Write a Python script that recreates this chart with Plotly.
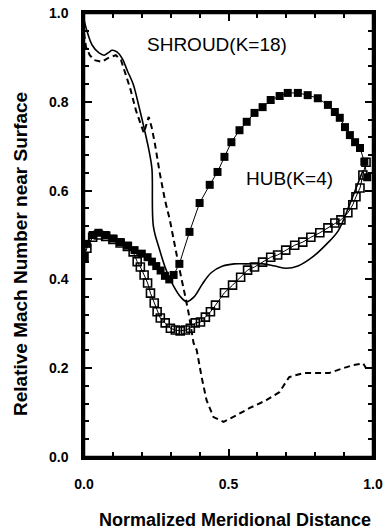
import plotly.graph_objects as go

# Shroud (K=18) filled squares
shroud_x = [0.0, 0.01, 0.03, 0.05, 0.075, 0.10, 0.125, 0.15, 0.175, 0.20, 0.22, 0.235, 0.25, 0.265,
            0.28, 0.295, 0.31, 0.33, 0.365, 0.40, 0.435, 0.462, 0.486, 0.51, 0.538, 0.563, 0.59,
            0.618, 0.646, 0.677, 0.705, 0.74, 0.774, 0.809, 0.844, 0.868, 0.885, 0.903, 0.92,
            0.938, 0.955, 0.97, 0.98]
shroud_y = [0.45, 0.48, 0.50, 0.505, 0.50, 0.492, 0.484, 0.476, 0.466, 0.458, 0.45, 0.44, 0.43, 0.42,
            0.408, 0.40, 0.41, 0.435, 0.507, 0.572, 0.613, 0.642, 0.676, 0.709, 0.736, 0.755, 0.775,
            0.788, 0.804, 0.813, 0.82, 0.82, 0.815, 0.808, 0.793, 0.777, 0.764, 0.743, 0.725,
            0.709, 0.696, 0.665, 0.63]

# Hub (K=4) open squares
hub_x = [0.0, 0.01, 0.03, 0.05, 0.075, 0.10, 0.125, 0.15, 0.17, 0.184, 0.195, 0.208, 0.22, 0.23,
         0.243, 0.253, 0.264, 0.281, 0.299, 0.316, 0.333, 0.351, 0.368, 0.385, 0.403, 0.42,
         0.4375, 0.455, 0.486, 0.514, 0.542, 0.566, 0.59, 0.618, 0.646, 0.67, 0.698, 0.729,
         0.757, 0.785, 0.816, 0.844, 0.868, 0.889, 0.913, 0.93, 0.941, 0.955, 0.965, 0.976]
hub_y = [0.45, 0.47, 0.495, 0.50, 0.497, 0.49, 0.482, 0.474, 0.462, 0.44, 0.428, 0.41, 0.392, 0.369,
         0.347, 0.327, 0.313, 0.302, 0.29, 0.286, 0.284, 0.286, 0.29, 0.302, 0.304, 0.315,
         0.327, 0.342, 0.37, 0.387, 0.405, 0.421, 0.428, 0.439, 0.45, 0.455, 0.466, 0.477,
         0.484, 0.495, 0.505, 0.516, 0.527, 0.534, 0.55, 0.568, 0.586, 0.606, 0.635, 0.664]

# Solid line
solid_x = [0.0, 0.01, 0.028, 0.052, 0.07, 0.087, 0.097, 0.115, 0.132, 0.15, 0.17, 0.19, 0.21, 0.225,
           0.235, 0.24, 0.26, 0.285, 0.31, 0.335, 0.355, 0.38, 0.41, 0.44, 0.48, 0.52, 0.56,
           0.62, 0.66, 0.70, 0.74, 0.79, 0.84, 0.88, 0.92, 0.95, 0.965]
solid_y = [0.985, 0.96, 0.928, 0.91, 0.905, 0.912, 0.916, 0.912, 0.898, 0.87, 0.84, 0.79, 0.735, 0.69,
           0.65, 0.52, 0.47, 0.42, 0.385, 0.36, 0.35, 0.36, 0.39, 0.415, 0.43, 0.435, 0.435,
           0.435, 0.43, 0.425, 0.43, 0.45, 0.48, 0.51, 0.57, 0.62, 0.645]

# Dashed line
dash_x = [0.0, 0.007, 0.02, 0.035, 0.062, 0.087, 0.11, 0.128, 0.16, 0.18, 0.207, 0.224, 0.234,
          0.245, 0.262, 0.28, 0.297, 0.314, 0.331, 0.348, 0.362, 0.379, 0.39, 0.407, 0.424,
          0.448, 0.483, 0.528, 0.572, 0.631, 0.676, 0.71, 0.759, 0.803, 0.848, 0.897, 0.931,
          0.966, 0.976]
dash_y = [0.955, 0.923, 0.905, 0.894, 0.89, 0.9, 0.905, 0.894, 0.83, 0.78, 0.73, 0.766, 0.743,
          0.707, 0.64, 0.579, 0.534, 0.473, 0.421, 0.369, 0.324, 0.257, 0.241, 0.18, 0.128,
          0.09, 0.079, 0.094, 0.11, 0.128, 0.146, 0.18, 0.189, 0.189, 0.189, 0.2, 0.207,
          0.211, 0.2]

x_range = [0.0, 1.0]
y_range = [0.0, 1.0]
x_ticks = [0.0, 0.5, 1.0]
x_labels = ["0.0", "0.5", "1.0"]
y_ticks = [0.0, 0.2, 0.4, 0.6, 0.8, 1.0]
y_labels = ["0.0", "0.2", "0.4", "0.6", "0.8", "1.0"]

FONT = "Liberation Sans, Arial, sans-serif"

fig = go.Figure()
fig.add_trace(go.Scatter(x=solid_x, y=solid_y, mode="lines",
                         line=dict(color="black", width=1.6), line_shape="spline"))
fig.add_trace(go.Scatter(x=dash_x, y=dash_y, mode="lines",
                         line=dict(color="black", width=2, dash="6px,4px")))
fig.add_trace(go.Scatter(x=hub_x, y=hub_y, mode="lines+markers",
                         line=dict(color="black", width=1),
                         marker=dict(symbol="square-open", size=8, color="black",
                                     line=dict(width=1.6, color="black"))))
fig.add_trace(go.Scatter(x=shroud_x, y=shroud_y, mode="lines+markers",
                         line=dict(color="black", width=1),
                         marker=dict(symbol="square", size=8, color="black")))

fig.add_annotation(x=0.46, y=0.928, xref="x", yref="y", text="SHROUD(K=18)", showarrow=False,
                   font=dict(family=FONT, size=19, color="black"))
fig.add_annotation(x=0.71, y=0.628, xref="x", yref="y", text="HUB(K=4)", showarrow=False,
                   font=dict(family=FONT, size=19, color="black"))
fig.add_annotation(x=0.522, y=-0.168, xref="paper", yref="paper",
                   text="<b>Normalized Meridional Distance</b>", showarrow=False,
                   font=dict(family=FONT, size=18, color="black"))
fig.add_annotation(x=-0.265, y=0.457, xref="paper", yref="paper", textangle=-90,
                   text="<b>Relative Mach Number near Surface</b>", showarrow=False,
                   font=dict(family=FONT, size=19, color="black"))

# plot frame (backup to the axis lines)
fig.add_shape(type="rect", xref="paper", yref="paper", x0=0, x1=1, y0=0, y1=1,
              line=dict(color="black", width=2.5), layer="above")

axis_common = dict(showgrid=False, zeroline=False, showline=True, linecolor="black", linewidth=2.5,
                   mirror="ticks", ticks="inside", tickcolor="black", tickwidth=1.5, ticklen=8,
                   ticklabeloverflow="allow", automargin=False,
                   tickfont=dict(family=FONT, size=14, color="black"))

fig.update_xaxes(range=x_range, tickvals=x_ticks, ticktext=["<b>%s</b>" % t for t in x_labels],
                 minor=dict(dtick=0.1, ticks="inside", ticklen=5, tickcolor="black", tickwidth=1.5),
                 ticklabelstandoff=12, **axis_common)
fig.update_yaxes(range=y_range, tickvals=y_ticks, ticktext=["<b>%s</b>" % t for t in y_labels],
                 minor=dict(dtick=0.04, ticks="inside", ticklen=5, tickcolor="black", tickwidth=1.5),
                 ticklabelstandoff=10, **axis_common)

fig.update_layout(template="none", width=390, height=531, margin=dict(l=84, r=17, t=13, b=74),
                  paper_bgcolor="white", plot_bgcolor="white", showlegend=False,
                  font=dict(family=FONT, color="black"))

fig.write_html("out.html", config={"displayModeBar": False},
               post_script="document.body.style.margin='0';")
